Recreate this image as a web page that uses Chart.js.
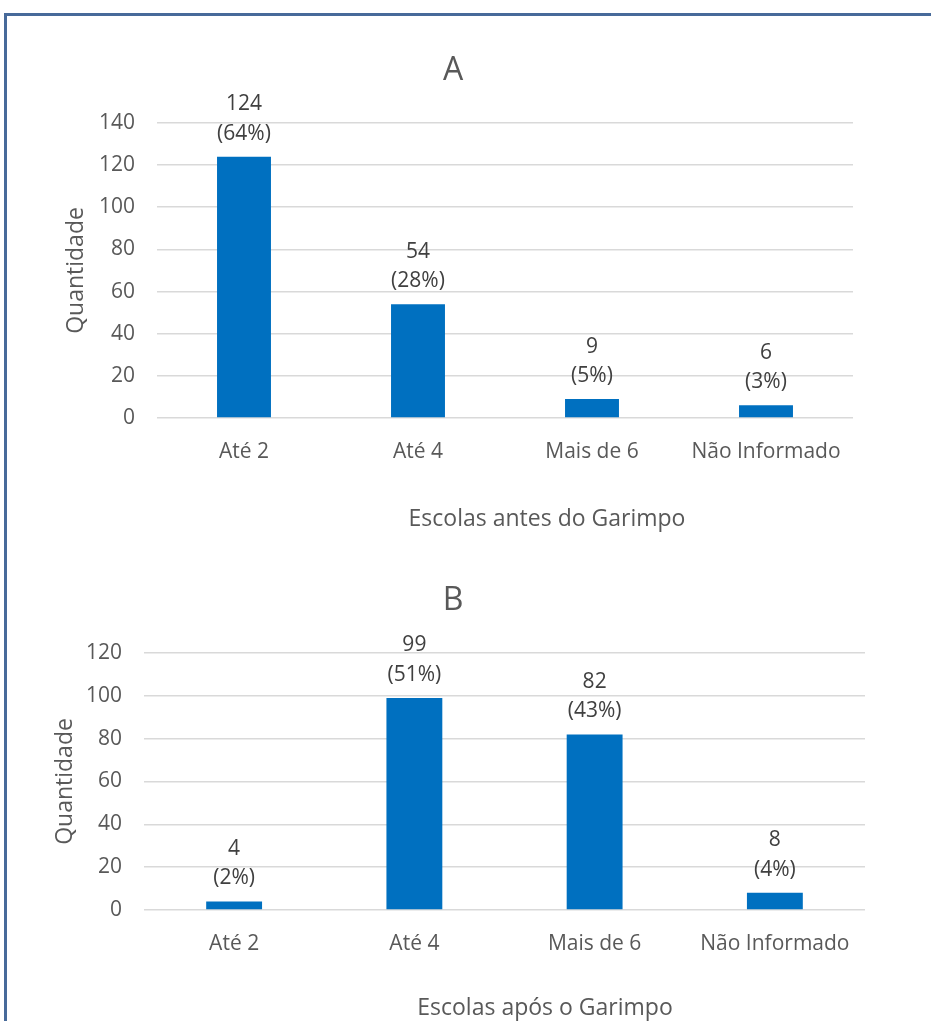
<!DOCTYPE html>
<html><head><meta charset="utf-8">
<script src="https://cdn.jsdelivr.net/npm/chart.js@4.4.1/dist/chart.umd.min.js"></script>
<style>
html,body{margin:0;padding:0;background:#fff;width:931px;height:1021px;overflow:hidden;}
#frame{position:absolute;left:4px;top:13px;width:1000px;height:1100px;border-top:3px solid #476a9a;border-left:3px solid #476a9a;box-sizing:border-box;}
#wa{position:absolute;left:0;top:0;width:931px;height:540px;}
#wb{position:absolute;left:0;top:540px;width:931px;height:481px;}
canvas{display:block;}
</style></head><body>
<div id="frame"></div>
<div id="wa"><canvas id="ca" width="931" height="540"></canvas></div>
<div id="wb"><canvas id="cb" width="931" height="481"></canvas></div>
<script>
// ---- data ----
const categories = ['Até 2', 'Até 4', 'Mais de 6', 'Não Informado'];
const valuesA = [124, 54, 9, 6];
const percentA = [64, 28, 5, 3];
const valuesB = [4, 99, 82, 8];
const percentB = [2, 51, 43, 4];
const yMaxA = 140;
const yMaxB = 120;
const yStep = 20;
const titleA = 'A';
const titleB = 'B';
const xTitleA = 'Escolas antes do Garimpo';
const xTitleB = 'Escolas após o Garimpo';
const yTitle = 'Quantidade';

// ---- styling ----
const FONT = "'Open Sans', 'DejaVu Sans', sans-serif";
const BAR = '#0070c0';
const GRID = '#d9d9d9';
const TICK = '#595959';
const LABEL = '#404040';

Chart.defaults.font.family = FONT;
Chart.defaults.color = TICK;

function txt(ctx, s, x, y, size, color, align) {
  ctx.save();
  ctx.font = size + 'px ' + FONT;
  ctx.fillStyle = color;
  ctx.textAlign = align || 'center';
  ctx.textBaseline = 'alphabetic';
  ctx.fillText(s, x, y);
  ctx.restore();
}

function makeChart(id, values, perc, yMax, title, xTitle, g) {
  const canvas = document.getElementById(id);
  const H = canvas.height, W = canvas.width;
  const XH = 40;
  const textPlugin = {
    id: 'texts_' + id,
    afterDatasetsDraw(chart) {
      const ctx = chart.ctx;
      const meta = chart.getDatasetMeta(0);
      meta.data.forEach((bar, i) => {
        txt(ctx, String(values[i]), bar.x, bar.y - 46.5, 21, LABEL);
        txt(ctx, '(' + perc[i] + '%)', bar.x, bar.y - 17, 21, LABEL);
      });
    },
    afterDraw(chart) {
      const ctx = chart.ctx;
      const ca = chart.chartArea;
      txt(ctx, title, g.titleX, g.titleBase, 32, TICK);
      txt(ctx, xTitle, g.xTitleX, g.xTitleBase, 23, TICK);
      ctx.save();
      ctx.translate(g.yTitleX, (ca.top + ca.bottom) / 2);
      ctx.rotate(-Math.PI / 2);
      txt(ctx, yTitle, 0, 0, 23, TICK);
      ctx.restore();
    }
  };
  return new Chart(canvas, {
    type: 'bar',
    data: {
      labels: categories,
      datasets: [{ data: values, backgroundColor: BAR, borderWidth: 0,
                   barPercentage: 0.62, categoryPercentage: 0.5 }]
    },
    options: {
      responsive: false,
      animation: false,
      layout: { padding: { left: 0, right: W - g.right, top: g.top, bottom: H - g.bottom - XH } },
      plugins: { legend: { display: false }, title: { display: false }, tooltip: { enabled: false } },
      scales: {
        x: {
          grid: { display: false, drawTicks: false },
          border: { display: false },
          ticks: { font: { size: 21 }, color: TICK, padding: g.xPad, maxRotation: 0, autoSkip: false },
          afterFit(s) { s.height = XH; }
        },
        y: {
          min: 0, max: yMax,
          grid: { color: GRID, lineWidth: 1.6, drawTicks: false },
          border: { display: false },
          ticks: { stepSize: yStep, font: { size: 21 }, color: TICK, padding: g.yPad },
          afterFit(s) { s.width = g.left; }
        }
      }
    },
    plugins: [textPlugin]
  });
}

makeChart('ca', valuesA, percentA, yMaxA, titleA, xTitleA, {
  left: 157, right: 853, top: 123, bottom: 418, yPad: 22, xPad: 21,
  titleX: 453, titleBase: 80, xTitleX: 547, xTitleBase: 526, yTitleX: 83
});
makeChart('cb', valuesB, percentB, yMaxB, titleB, xTitleB, {
  left: 144, right: 865, top: 113, bottom: 370, yPad: 22, xPad: 21,
  titleX: 453, titleBase: 70, xTitleX: 545, xTitleBase: 475, yTitleX: 72
});
</script>
</body></html>
